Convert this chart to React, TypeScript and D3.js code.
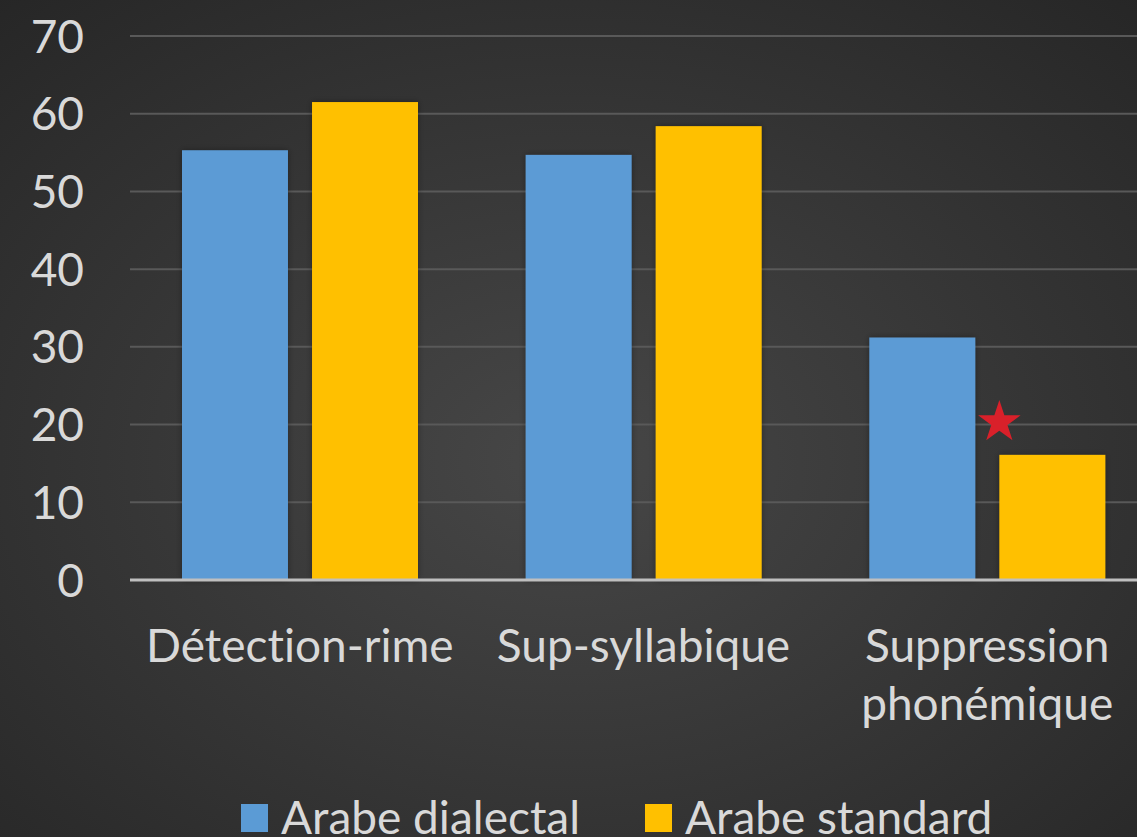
import { useEffect, useRef } from 'react';
import * as d3 from 'd3';

const categories = ['Détection-rime', 'Sup-syllabique', 'Suppression\nphonémique'];
const seriesNames = ['Arabe dialectal', 'Arabe standard'];
const dialectal = [55.3, 54.7, 31.2];
const standard = [61.5, 58.4, 16.1];
const yTicks = [0, 10, 20, 30, 40, 50, 60, 70];

const COLORS = {
  dialectal: '#5b9bd5',
  standard: '#ffc000',
  grid: '#595959',
  axis: '#bfbfbf',
  text: '#d9d9d9',
  star: '#d9202a',
};

const W = 1137;
const H = 837;
const FONT = 'Lato, "Open Sans", sans-serif';

export default function App() {
  const svgRef = useRef<SVGSVGElement>(null);

  useEffect(() => {
    document.body.style.margin = '0';
    if (!svgRef.current) return;
    const svg = d3.select(svgRef.current);
    svg.selectAll('*').remove();

    // Background
    const defs = svg.append('defs');
    const bg = defs.append('radialGradient')
      .attr('id', 'bg-grad')
      .attr('cx', '50%').attr('cy', '55%').attr('r', '75%');
    bg.append('stop').attr('offset', '0%').attr('stop-color', '#474747');
    bg.append('stop').attr('offset', '100%').attr('stop-color', '#262626');
    svg.append('rect').attr('width', W).attr('height', H).attr('fill', 'url(#bg-grad)');

    const shadow = defs.append('filter').attr('id', 'bar-shadow')
      .attr('x', '-10%').attr('y', '-10%').attr('width', '120%').attr('height', '120%');
    shadow.append('feDropShadow')
      .attr('dx', 0).attr('dy', 0).attr('stdDeviation', 3)
      .attr('flood-color', '#000').attr('flood-opacity', 0.35);

    const x0 = d3.scaleBand<string>().domain(categories).range([128, 1159]).padding(0);
    const x1 = d3.scaleBand<string>().domain(seriesNames).range([54, 290]).paddingInner(0.185);
    const y = d3.scaleLinear().domain([0, 70]).range([580, 36]);

    const root = svg.append('g')
      .style('font-variant-ligatures', 'none')
      .attr('font-family', FONT);

    // Gridlines
    root.append('g')
      .selectAll('line')
      .data(yTicks.filter((t) => t > 0))
      .join('line')
      .attr('x1', 130)
      .attr('x2', W)
      .attr('y1', (d) => y(d))
      .attr('y2', (d) => y(d))
      .attr('stroke', COLORS.grid)
      .attr('stroke-width', 2);

    // Y tick labels
    root.append('g')
      .selectAll('text')
      .data(yTicks)
      .join('text')
      .attr('x', 84)
      .attr('y', (d) => y(d))
      .attr('dy', '0.36em')
      .attr('text-anchor', 'end')
      .attr('font-size', 46)
      .attr('fill', COLORS.text)
      .text((d) => d);

    // Bars
    const values = [dialectal, standard];
    const colors = [COLORS.dialectal, COLORS.standard];
    const barG = root.append('g').attr('filter', 'url(#bar-shadow)');
    seriesNames.forEach((s, si) => {
      barG.append('g')
        .selectAll('rect')
        .data(categories)
        .join('rect')
        .attr('x', (c) => (x0(c) ?? 0) + (x1(s) ?? 0))
        .attr('y', (_, i) => y(values[si][i]))
        .attr('width', x1.bandwidth())
        .attr('height', (_, i) => y(0) - y(values[si][i]))
        .attr('fill', colors[si]);
    });

    // Axis line
    root.append('line')
      .attr('x1', 130).attr('x2', W)
      .attr('y1', y(0)).attr('y2', y(0))
      .attr('stroke', COLORS.axis)
      .attr('stroke-width', 3);

    // Category labels
    categories.forEach((c) => {
      const cx = (x0(c) ?? 0) + x0.bandwidth() / 2;
      const t = root.append('text')
        .attr('x', cx)
        .attr('y', 662)
        .attr('text-anchor', 'middle')
        .attr('font-size', 46)
        .attr('fill', COLORS.text);
      c.split('\n').forEach((line, li) => {
        t.append('tspan').attr('x', cx).attr('dy', li === 0 ? 0 : 58).text(line);
      });
    });

    // Significance star over the last standard bar
    const starCx = (x0(categories[2]) ?? 0) + (x1(seriesNames[1]) ?? 0) + x1.bandwidth() / 2 - 53;
    root.append('path')
      .attr('d', d3.symbol(d3.symbolStar, 560)() as string)
      .attr('transform', `translate(${starCx},${y(20.3)})`)
      .attr('fill', COLORS.star);

    // Legend
    const legend = [
      { name: seriesNames[0], color: COLORS.dialectal, x: 241 },
      { name: seriesNames[1], color: COLORS.standard, x: 645 },
    ];
    legend.forEach((l) => {
      root.append('rect')
        .attr('x', l.x).attr('y', 804)
        .attr('width', 27).attr('height', 28)
        .attr('fill', l.color);
      root.append('text')
        .attr('x', l.x + 40)
        .attr('y', 834)
        .attr('font-size', 46)
        .attr('fill', COLORS.text)
        .text(l.name);
    });
  }, []);

  return (
    <svg
      ref={svgRef}
      width={W}
      height={H}
      style={{ position: 'absolute', left: 0, top: 0, display: 'block' }}
    />
  );
}
